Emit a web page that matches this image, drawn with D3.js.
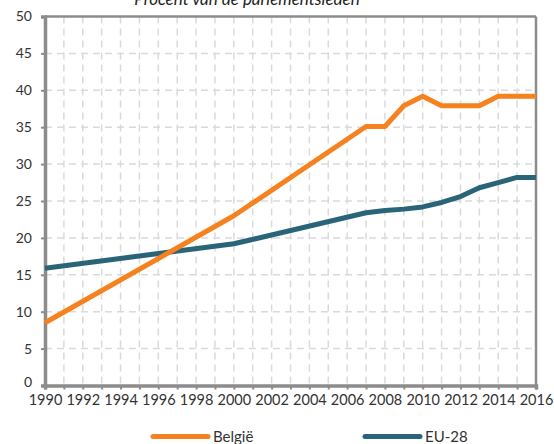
<!DOCTYPE html>
<html>
<head>
<meta charset="utf-8">
<script src="https://cdn.jsdelivr.net/npm/d3@7"></script>
<style>
  html, body { margin: 0; padding: 0; background: #fff; }
  svg { display: block; font-family: Lato, "Open Sans", sans-serif; }
</style>
</head>
<body>
<svg id="chart" width="554" height="444"></svg>
<script>
// Share of women among members of parliament (%), Belgium vs EU-28
const years   = [1990, 2000, 2007, 2008, 2009, 2010, 2011, 2012, 2013, 2014, 2015, 2016];
const belgium = [8.5, 23.0, 35.1, 35.1, 37.9, 39.2, 37.9, 37.9, 37.9, 39.2, 39.2, 39.2];
const eu28    = [15.9, 19.2, 23.4, 23.7, 23.9, 24.2, 24.8, 25.6, 26.8, 27.5, 28.2, 28.2];
const yTicks  = [0, 5, 10, 15, 20, 25, 30, 35, 40, 45, 50];
const xLabelYears = d3.range(1990, 2017, 2);
const gridYears   = d3.range(1990, 2017, 1);
const seriesNames = ["België", "EU-28"];
const titleText = "Procent van de parlementsleden";

const colors = { "België": "#f5821f", "EU-28": "#2a6478" };
const axisGray = "#8c8c8c";

const svg = d3.select("#chart");
const m = { left: 45, right: 536, top: 16.5, bottom: 385.5 };

const x = d3.scaleLinear().domain([1990, 2016]).range([m.left, m.right]);
const y = d3.scaleLinear().domain([0, 50]).range([m.bottom, m.top]);

// title (sits right above the plot box)
svg.append("text")
  .attr("x", 247).attr("y", 5)
  .attr("text-anchor", "middle")
  .attr("font-style", "italic")
  .attr("font-size", 17)
  .attr("fill", "#222")
  .text(titleText);

// dashed grid
const grid = svg.append("g").attr("stroke", "#dadada").attr("stroke-width", 1.5)
  .attr("stroke-dasharray", "7,5");
grid.selectAll("line.v").data(gridYears.slice(1, -1)).join("line")
  .attr("class", "v")
  .attr("x1", d => x(d)).attr("x2", d => x(d))
  .attr("y1", m.top).attr("y2", m.bottom);
grid.selectAll("line.h").data(yTicks.slice(1, -1)).join("line")
  .attr("class", "h")
  .attr("x1", m.left).attr("x2", m.right)
  .attr("y1", d => y(d)).attr("y2", d => y(d));

// plot frame: thin top/right, heavy left/bottom axes
svg.append("line").attr("x1", m.left).attr("x2", m.right).attr("y1", m.top).attr("y2", m.top)
  .attr("stroke", axisGray).attr("stroke-width", 2.5);
svg.append("line").attr("x1", m.right).attr("x2", m.right).attr("y1", m.top).attr("y2", m.bottom)
  .attr("stroke", axisGray).attr("stroke-width", 2.5);

// y axis
const yAxis = svg.append("g").attr("transform", `translate(${m.left},0)`)
  .call(d3.axisLeft(y).tickValues(yTicks).tickSize(4).tickPadding(9));
yAxis.select(".domain").attr("stroke", axisGray).attr("stroke-width", 3.5);
yAxis.selectAll(".tick line").attr("stroke", axisGray).attr("stroke-width", 2);
yAxis.selectAll(".tick text").attr("font-size", 14).attr("fill", "#333")
  .style("font-family", "Lato, sans-serif");
yAxis.selectAll(".tick text").filter(d => d === 0).attr("dy", "0.1em");

// x axis: a tick every year, labels every other year
const xAxis = svg.append("g").attr("transform", `translate(0,${m.bottom})`)
  .call(d3.axisBottom(x).tickValues(gridYears).tickSize(4).tickPadding(5)
    .tickFormat(d => xLabelYears.includes(d) ? String(d) : ""));
xAxis.select(".domain").attr("stroke", axisGray).attr("stroke-width", 3.5);
xAxis.selectAll(".tick line").attr("stroke", axisGray).attr("stroke-width", 2);
xAxis.selectAll(".tick text").attr("font-size", 14.5).attr("fill", "#333")
  .style("font-family", "Lato, sans-serif");

// series lines
const line = d3.line()
  .x((d, i) => x(years[i]))
  .y(d => y(d))
  .curve(d3.curveLinear);

[[seriesNames[1], eu28], [seriesNames[0], belgium]].forEach(([name, vals]) => {
  svg.append("path")
    .datum(vals)
    .attr("d", line)
    .attr("fill", "none")
    .attr("stroke", colors[name])
    .attr("stroke-width", 5)
    .attr("stroke-linejoin", "round")
    .attr("stroke-linecap", "butt");
});

// legend
const legendX = [153, 365];
seriesNames.forEach((name, i) => {
  const g = svg.append("g").attr("transform", `translate(${legendX[i]},436.5)`);
  g.append("line").attr("x1", 0).attr("x2", 55).attr("y1", 0).attr("y2", 0)
    .attr("stroke", colors[name]).attr("stroke-width", 5).attr("stroke-linecap", "round");
  g.append("text").attr("x", 60).attr("y", 5.5)
    .attr("font-size", 15).attr("fill", "#333")
    .text(name);
});
</script>
</body>
</html>
